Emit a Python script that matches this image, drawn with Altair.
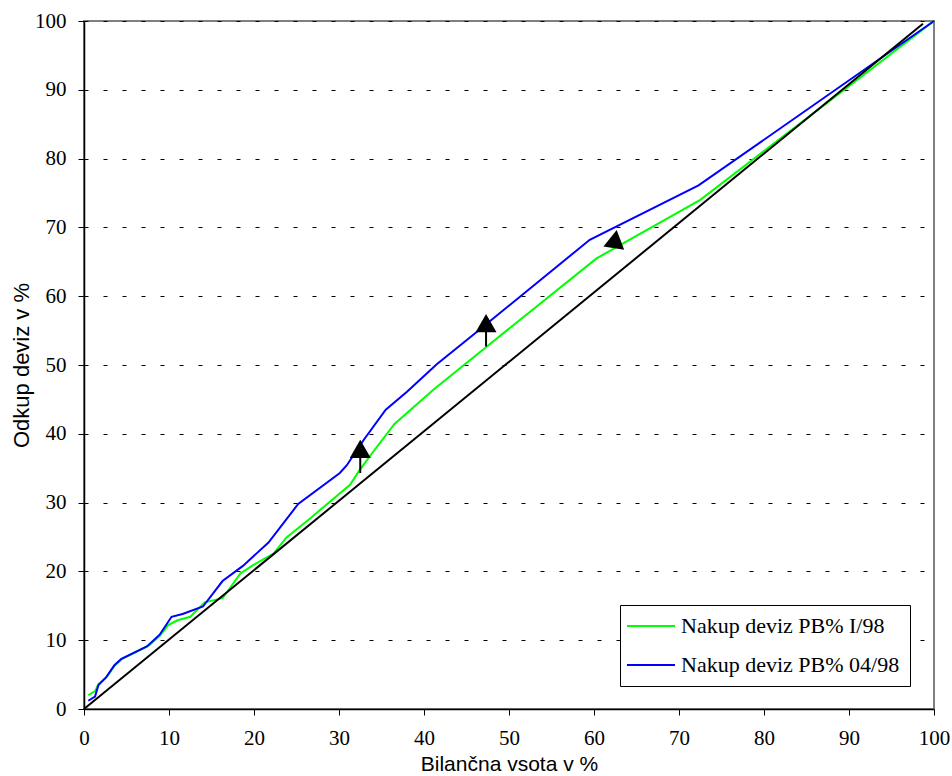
import altair as alt
import pandas as pd

# ---- data ----
green_label = "Nakup deviz PB% I/98"
blue_label = "Nakup deviz PB% 04/98"

green_x = [0.5, 1.3, 1.7, 2.7, 3.6, 4.4, 7.6, 8.9, 9.9, 11.0, 12.5, 14.2, 16.3, 18.4,
           19.9, 22.3, 23.8, 26.6, 31.3, 32.3, 33.6, 36.5, 41.1, 47.4, 60.3, 72.5, 100.0]
green_y = [2.0, 2.6, 3.6, 4.7, 6.3, 7.2, 9.2, 10.6, 12.2, 12.9, 13.4, 15.5, 16.1, 19.7,
           20.9, 22.6, 24.9, 27.7, 32.6, 34.5, 36.7, 41.4, 46.4, 52.7, 65.5, 74.0, 100.0]

blue_x = [0.5, 1.3, 1.7, 2.6, 3.6, 4.4, 7.4, 8.9, 10.3, 11.6, 14.0, 16.3, 18.7, 21.7,
          25.2, 30.1, 30.9, 32.9, 35.5, 38.0, 41.5, 46.2, 59.5, 72.3, 100.0]
blue_y = [1.2, 1.8, 3.5, 4.6, 6.4, 7.3, 9.1, 10.8, 13.4, 13.8, 14.9, 18.6, 20.8, 24.2,
          29.8, 34.3, 35.4, 39.1, 43.5, 46.1, 50.1, 54.8, 68.2, 76.1, 100.0]

diag_x = [0.0, 98.7]
diag_y = [0.0, 99.6]

arrow_x = [32.5, 47.3, 62.5]
arrow_y = [37.8, 56.1, 68.3]
arrow_angle = [0, 0, 9]

stem_x = [32.5, 47.3]
stem_y1 = [34.3, 52.7]
stem_y2 = [36.6, 55.0]

ticks = list(range(0, 101, 10))

# ---- tables ----
series = pd.DataFrame(
    [{"s": green_label, "i": i, "x": x, "y": y} for i, (x, y) in enumerate(zip(green_x, green_y))]
    + [{"s": blue_label, "i": i, "x": x, "y": y} for i, (x, y) in enumerate(zip(blue_x, blue_y))]
)
diag = pd.DataFrame({"x": diag_x, "y": diag_y})
arrows = pd.DataFrame({"x": arrow_x, "y": arrow_y, "a": arrow_angle})
stems = pd.DataFrame({"x": stem_x, "y": stem_y1, "y2": stem_y2})

serif = "Liberation Serif"
sans = "Liberation Sans"

xscale = alt.Scale(domain=[0, 100], nice=False, zero=False)
yscale = alt.Scale(domain=[0, 100], nice=False, zero=False)

xaxis = alt.Axis(values=ticks, title="Bilančna vsota v %", grid=False,
                 domainColor="black", domainWidth=1.5, tickColor="black", tickSize=6,
                 tickWidth=1, labelFont=serif, labelFontSize=21, labelColor="black",
                 labelPadding=12, labelFlush=False, titleFont=sans, titleFontSize=21,
                 titleFontWeight="normal", titleColor="black", titlePadding=5)
yaxis = alt.Axis(values=ticks, title="Odkup deviz v %", grid=True, gridColor="black",
                 gridDash=[4, 15], gridWidth=1, domainColor="black", domainWidth=1.5,
                 tickColor="black", tickSize=6, tickWidth=1, labelFont=serif,
                 labelFontSize=21, labelColor="black", labelPadding=12, labelFlush=False,
                 titleFont=sans, titleFontSize=22, titleFontWeight="normal",
                 titleColor="black", titlePadding=1)

lines = alt.Chart(series).mark_line(strokeWidth=2).encode(
    x=alt.X("x:Q", scale=xscale, axis=xaxis),
    y=alt.Y("y:Q", scale=yscale, axis=yaxis),
    color=alt.Color("s:N",
                    scale=alt.Scale(domain=[green_label, blue_label],
                                    range=["#00FF00", "#0000FF"]),
                    legend=alt.Legend(title=None, orient="none", legendX=536, legendY=584,
                                      strokeColor="black", fillColor="white", padding=10,
                                      symbolType="M-2.4,0L2.4,0", symbolSize=400,
                                      symbolStrokeWidth=2, symbolOffset=10,
                                      labelOffset=19, rowPadding=17,
                                      labelFont=serif, labelFontSize=22,
                                      labelColor="black", labelLimit=400)),
    detail="s:N",
    order="i:Q",
)

diag_line = alt.Chart(diag).mark_line(color="black", strokeWidth=2).encode(
    x=alt.X("x:Q", scale=xscale),
    y=alt.Y("y:Q", scale=yscale),
)

stem_rules = alt.Chart(stems).mark_rule(color="black", strokeWidth=2).encode(
    x=alt.X("x:Q", scale=xscale),
    y=alt.Y("y:Q", scale=yscale),
    y2="y2:Q",
)

arrow_heads = alt.Chart(arrows).mark_point(shape="triangle-up", filled=True, size=441,
                                           color="black", opacity=1).encode(
    x=alt.X("x:Q", scale=xscale),
    y=alt.Y("y:Q", scale=yscale),
    angle=alt.Angle("a:Q", scale=None),
)

chart = alt.layer(lines, diag_line, stem_rules, arrow_heads).properties(
    width=850, height=688,
    autosize=alt.AutoSizeParams(type="none"),
    padding={"left": 84, "top": 21, "right": 18, "bottom": 67},
    background="white",
).configure_view(stroke="#808080", strokeWidth=2)

chart.save("out.html", embed_options={"renderer": "svg", "actions": False})
